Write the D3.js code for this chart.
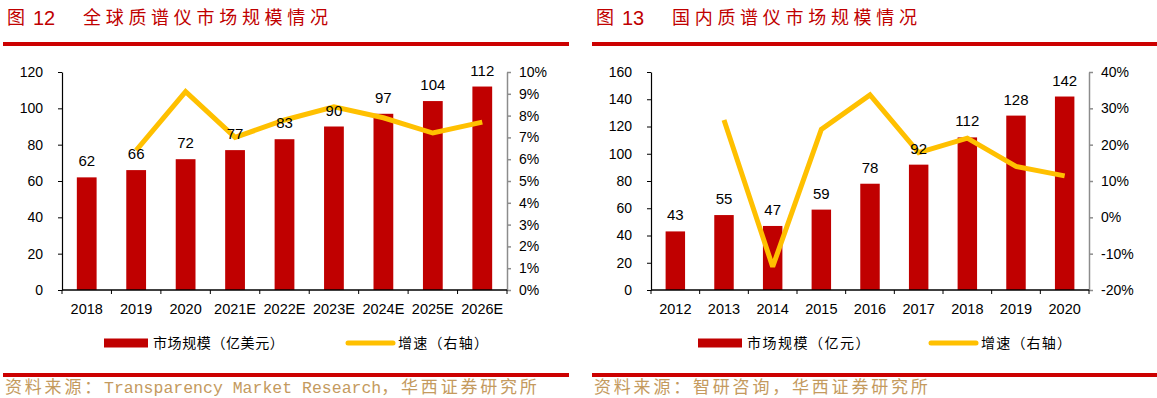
<!DOCTYPE html>
<html>
<head>
<meta charset="utf-8">
<script src="https://cdn.jsdelivr.net/npm/d3@7"></script>
<style>
  body { margin: 0; background: #fff; }
  svg { display: block; }
</style>
</head>
<body>
<div id="chart"></div>
<script>
// figure 12: global market
const globalYears = ['2018', '2019', '2020', '2021E', '2022E', '2023E', '2024E', '2025E', '2026E'];
const globalSize = [62, 66, 72, 77, 83, 90, 97, 104, 112];
const globalGrowth = [null, 6.4, 9.1, 7.0, 7.8, 8.4, 7.9, 7.2, 7.7];
const globalLeftTicks = [0, 20, 40, 60, 80, 100, 120];
const globalRightTicks = [0, 1, 2, 3, 4, 5, 6, 7, 8, 9, 10];

// figure 13: domestic market
const domesticYears = ['2012', '2013', '2014', '2015', '2016', '2017', '2018', '2019', '2020'];
const domesticSize = [43, 55, 47, 59, 78, 92, 112, 128, 142];
const domesticGrowth = [null, 26.8, -13.6, 24.2, 33.7, 17.8, 21.8, 14.0, 11.4];
const domesticLeftTicks = [0, 20, 40, 60, 80, 100, 120, 140, 160];
const domesticRightTicks = [-20, -10, 0, 10, 20, 30, 40];

const RED = '#c00000';
const YELLOW = '#ffc000';
const TITLE_RED = '#c00000';
const RULE_RED = '#cc0000';
const SOURCE_COLOR = '#c49a5e';
const CJK = '"Noto Sans CJK SC", sans-serif';
const SANS = '"Liberation Sans", Arial, sans-serif';

const svg = d3.select('#chart').append('svg')
  .attr('width', 1157)
  .attr('height', 398);

function drawPanel(p) {
  const g = svg.append('g');

  // title
  g.append('text').attr('x', p.x0 + 4).attr('y', 24)
    .attr('font-family', CJK).attr('font-size', 18).attr('fill', TITLE_RED)
    .text('图');
  g.append('text').attr('x', p.x0 + 30).attr('y', 25)
    .attr('font-family', SANS).attr('font-size', 20).attr('fill', TITLE_RED)
    .text(p.num);
  g.append('text').attr('x', p.titleX).attr('y', 24)
    .attr('font-family', CJK).attr('font-size', 18).attr('fill', TITLE_RED)
    .attr('letter-spacing', 4.7)
    .text(p.title);

  // top and bottom rules
  g.append('rect').attr('x', p.x0).attr('y', 42).attr('width', p.x1 - p.x0).attr('height', 4).attr('fill', RULE_RED);
  g.append('rect').attr('x', p.x0).attr('y', 373).attr('width', p.x1 - p.x0).attr('height', 4).attr('fill', RULE_RED);

  const x = d3.scaleBand().domain(p.years).range([p.left, p.right]).paddingInner(0).paddingOuter(0);
  const y = d3.scaleLinear().domain([p.leftTicks[0], p.leftTicks[p.leftTicks.length - 1]]).range([290, 72]);
  const y2 = d3.scaleLinear().domain([p.rightTicks[0], p.rightTicks[p.rightTicks.length - 1]]).range([290, 72]);
  const bw = x.bandwidth() * 0.4;

  // bars
  g.append('g').selectAll('rect')
    .data(p.size)
    .enter().append('rect')
      .attr('x', (d, i) => x(p.years[i]) + (x.bandwidth() - bw) / 2)
      .attr('y', d => y(d))
      .attr('width', bw)
      .attr('height', d => y(0) - y(d))
      .attr('fill', RED);

  // left axis
  const yAxis = g.append('g').attr('transform', `translate(${p.left},0)`)
    .call(d3.axisLeft(y).tickValues(p.leftTicks).tickSize(4).tickPadding(15).tickSizeOuter(0));
  yAxis.select('.domain').attr('stroke', '#000').attr('stroke-width', 1.2);
  yAxis.selectAll('.tick line').attr('stroke', '#000');
  yAxis.selectAll('text').attr('font-family', SANS).attr('font-size', 14).attr('fill', '#000');

  // right axis
  const y2Axis = g.append('g').attr('transform', `translate(${p.right},0)`)
    .call(d3.axisRight(y2).tickValues(p.rightTicks).tickSize(4).tickPadding(8).tickSizeOuter(0)
      .tickFormat(d => d + '%'));
  y2Axis.select('.domain').attr('stroke', '#8c8c8c').attr('stroke-width', 1.5);
  y2Axis.selectAll('.tick line').attr('stroke', '#8c8c8c').attr('stroke-width', 1.5);
  y2Axis.selectAll('text').attr('font-family', SANS).attr('font-size', 14).attr('fill', '#000');

  // x axis: ticks on band edges
  const xg = g.append('g').attr('transform', 'translate(0,290)');
  xg.append('line').attr('x1', p.left).attr('x2', p.right).attr('stroke', '#000').attr('stroke-width', 1.5);
  const edges = p.years.map(d => x(d)).concat([p.right]);
  xg.selectAll('line.edge').data(edges).enter().append('line')
    .attr('class', 'edge')
    .attr('x1', d => d).attr('x2', d => d)
    .attr('y1', 0).attr('y2', 4)
    .attr('stroke', '#000');
  xg.selectAll('text').data(p.years).enter().append('text')
    .attr('x', d => x(d) + x.bandwidth() / 2)
    .attr('y', 24)
    .attr('text-anchor', 'middle')
    .attr('font-family', SANS).attr('font-size', 14.5).attr('fill', '#000')
    .text(d => d);

  // growth line
  const line = d3.line()
    .defined(d => d != null)
    .x((d, i) => x(p.years[i]) + x.bandwidth() / 2)
    .y(d => y2(d));
  g.append('path')
    .attr('d', line(p.growth))
    .attr('fill', 'none')
    .attr('stroke', YELLOW)
    .attr('stroke-width', 5)
    .attr('stroke-linejoin', 'miter')
    .attr('stroke-miterlimit', 3);

  // value labels
  g.append('g').selectAll('text')
    .data(p.size)
    .enter().append('text')
      .attr('x', (d, i) => x(p.years[i]) + x.bandwidth() / 2)
      .attr('y', d => y(d) - 11)
      .attr('text-anchor', 'middle')
      .attr('font-family', SANS).attr('font-size', 15).attr('fill', '#000')
      .text(d => d);

  // legend
  const lg = g.append('g').attr('transform', `translate(${p.legendX},343)`);
  lg.append('rect').attr('x', 0).attr('y', -4.5).attr('width', 44).attr('height', 9).attr('fill', RED);
  lg.append('text').attr('x', 49).attr('y', 5)
    .attr('font-family', CJK).attr('font-size', 14).attr('fill', '#000')
    .attr('letter-spacing', p.legendSpacing)
    .text(p.legendBar);
  lg.append('line').attr('x1', p.legendGap).attr('x2', p.legendGap + 45)
    .attr('y1', 0).attr('y2', 0)
    .attr('stroke', YELLOW).attr('stroke-width', 5).attr('stroke-linecap', 'round');
  lg.append('text').attr('x', p.legendGap + 50).attr('y', 5)
    .attr('font-family', CJK).attr('font-size', 14).attr('fill', '#000')
    .attr('letter-spacing', 1.2)
    .text('增速（右轴）');

  // source
  const src = g.append('text').attr('x', p.x0 + 2).attr('y', 393)
    .attr('fill', SOURCE_COLOR);
  p.source.forEach(part => {
    src.append('tspan')
      .attr('font-family', part.latin ? '"Liberation Mono", monospace' : CJK)
      .attr('font-size', part.latin ? 16.5 : 17)
      .attr('letter-spacing', part.latin ? 0 : 2.8)
      .text(part.t);
  });
}

drawPanel({
  x0: 3, x1: 569, num: '12', titleX: 83,
  title: '全球质谱仪市场规模情况',
  years: globalYears, size: globalSize, growth: globalGrowth,
  leftTicks: globalLeftTicks, rightTicks: globalRightTicks,
  left: 62, right: 507,
  legendX: 104, legendGap: 244, legendSpacing: 0.6,
  legendBar: '市场规模（亿美元）',
  source: [{ t: '资料来源：' }, { t: 'Transparency Market Research', latin: true }, { t: '，华西证券研究所' }]
});

drawPanel({
  x0: 592, x1: 1157, num: '13', titleX: 672,
  title: '国内质谱仪市场规模情况',
  years: domesticYears, size: domesticSize, growth: domesticGrowth,
  leftTicks: domesticLeftTicks, rightTicks: domesticRightTicks,
  left: 651, right: 1089,
  legendX: 698, legendGap: 233, legendSpacing: 1.5,
  legendBar: '市场规模（亿元）',
  source: [{ t: '资料来源：智研咨询，华西证券研究所' }]
});
</script>
</body>
</html>
